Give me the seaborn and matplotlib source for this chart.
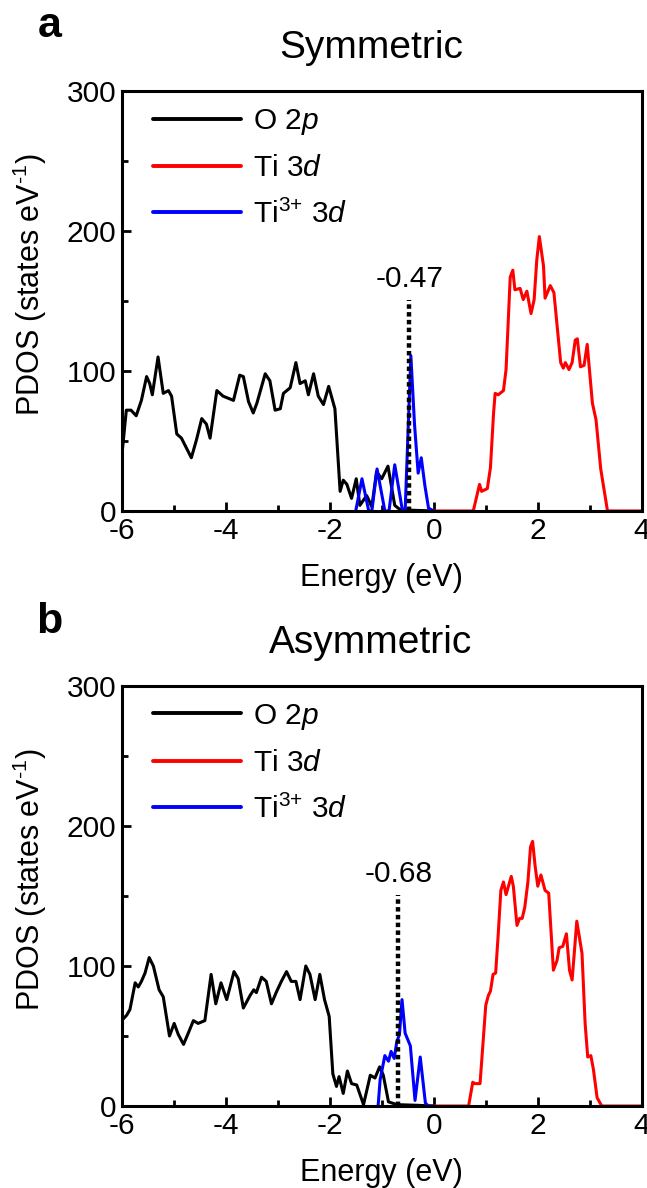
import matplotlib
matplotlib.use("Agg")
import matplotlib.pyplot as plt
from matplotlib.ticker import MultipleLocator
import seaborn as sns
import pandas as pd

# ---- Symmetric slab: projected DOS ----
sym_o2p_e = [-6.0, -5.91, -5.82, -5.72, -5.62, -5.52, -5.46, -5.41, -5.30, -5.20, -5.10, -5.04,
             -4.94, -4.85, -4.66, -4.56, -4.46, -4.37, -4.30, -4.17, -4.05, -3.85, -3.73, -3.66,
             -3.56, -3.47, -3.40, -3.24, -3.15, -3.05, -2.95, -2.89, -2.76, -2.65, -2.57, -2.47,
             -2.41, -2.31, -2.22, -2.12, -2.02, -1.90, -1.80, -1.74, -1.67, -1.58, -1.49, -1.42,
             -1.29, -1.19, -1.10, -1.00, -0.88, -0.75, -0.65, -0.40, 0.0]
sym_o2p_d = [38, 72, 72, 68, 79, 96, 91, 83, 110, 84, 86, 82,
             55, 52, 38, 51, 66, 62, 52, 86, 82, 79, 97, 96,
             78, 70, 77, 98, 93, 72, 73, 84, 88, 106, 91, 93,
             83, 98, 82, 76, 89, 73, 14, 22, 19, 9, 23, 4,
             11, 3, 28, 23, 32, 4, 1, 0.5, 0]

sym_ti3d_e = [0.0, 0.76, 0.88, 0.92, 1.03, 1.09, 1.15, 1.18, 1.24, 1.34, 1.39, 1.47, 1.52,
              1.56, 1.66, 1.72, 1.79, 1.87, 1.93, 1.98, 2.03, 2.11, 2.14, 2.24, 2.31, 2.44,
              2.49, 2.53, 2.60, 2.66, 2.72, 2.76, 2.82, 2.89, 2.95, 3.05, 3.12, 3.21, 3.34, 4.0]
sym_ti3d_d = [0, 0, 19, 14, 16, 31, 70, 84, 83, 86, 101, 167, 172,
              158, 159, 151, 157, 141, 151, 179, 196, 175, 152, 161, 156, 106,
              102, 106, 101, 106, 122, 123, 103, 104, 119, 77, 65, 30, 0, 0]

sym_ti33d_e = [-1.50, -1.38, -1.25, -1.19, -1.09, -0.94, -0.86, -0.75, -0.61, -0.55, -0.44,
               -0.37, -0.30, -0.24, -0.17, -0.10, 0.0]
sym_ti33d_d = [0, 23, 0, 0, 30, 0, 0, 33, 2, 0, 111,
               62, 27, 38, 18, 2, 0]

sym_fermi = -0.47

# ---- Asymmetric slab: projected DOS ----
asym_o2p_e = [-6.0, -5.90, -5.84, -5.74, -5.68, -5.62, -5.55, -5.47, -5.39, -5.28, -5.20, -5.08,
              -4.99, -4.91, -4.81, -4.72, -4.62, -4.53, -4.40, -4.28, -4.19, -4.09, -3.98, -3.84,
              -3.76, -3.66, -3.53, -3.46, -3.41, -3.31, -3.22, -3.12, -3.03, -2.93, -2.83, -2.74,
              -2.65, -2.57, -2.46, -2.38, -2.28, -2.19, -2.10, -2.01, -1.94, -1.87, -1.82, -1.74,
              -1.66, -1.58, -1.48, -1.35, -1.22, -1.13, -1.04, -0.97, -0.87, -0.71, -0.30, 0.0]
asym_o2p_d = [61, 65, 69, 88, 85, 89, 95, 106, 100, 83, 78, 50,
              59, 51, 44, 52, 61, 59, 61, 94, 73, 88, 76, 96,
              91, 70, 79, 83, 81, 92, 89, 73, 81, 89, 96, 89,
              89, 76, 100, 94, 76, 94, 76, 64, 23, 14, 21, 9,
              25, 16, 15, 1, 22, 20, 28, 22, 3, 1, 0.5, 0]

asym_ti3d_e = [0.0, 0.67, 0.75, 0.79, 0.89, 1.00, 1.05, 1.09, 1.14, 1.19, 1.24, 1.29, 1.34,
               1.39, 1.49, 1.53, 1.60, 1.65, 1.70, 1.75, 1.81, 1.86, 1.90, 1.95, 2.00, 2.06,
               2.14, 2.21, 2.30, 2.37, 2.41, 2.48, 2.55, 2.61, 2.66, 2.75, 2.85, 2.91, 2.96,
               3.02, 3.07, 3.14, 3.23, 4.0]
asym_ti3d_d = [0, 0, 17, 16, 16, 72, 79, 82, 94, 95, 123, 154, 160,
               151, 164, 157, 129, 134, 134, 142, 160, 185, 189, 171, 157, 165,
               154, 152, 97, 104, 113, 114, 123, 97, 90, 132, 109, 59, 35,
               36, 26, 6, 0, 0]

asym_ti33d_e = [-1.07, -1.03, -0.94, -0.87, -0.82, -0.76, -0.71, -0.66, -0.61, -0.55, -0.45,
                -0.36, -0.26, -0.16, -0.10, 0.0]
asym_ti33d_d = [0, 19, 36, 32, 39, 34, 46, 51, 76, 52, 43,
                4, 35, 2, 0, 0]

asym_fermi = -0.68

series_labels = ["O $\\mathit{2p}$", "Ti $\\mathit{3d}$", "Ti$^{3{+}}$ $\\mathit{3d}$"]
series_colors = ["#000000", "#ff0000", "#0000ff"]
panel_titles = ["Symmetric", "Asymmetric"]
panel_letters = ["a", "b"]

sns.set_style("ticks")
plt.rcParams["font.family"] = ["Liberation Sans", "DejaVu Sans"]
plt.rcParams["mathtext.fontset"] = "custom"
plt.rcParams["mathtext.rm"] = "Liberation Sans"
plt.rcParams["mathtext.it"] = "Liberation Sans:italic"
plt.rcParams["mathtext.bf"] = "Liberation Sans:bold"
plt.rcParams["axes.unicode_minus"] = False
for key in ["text.color", "axes.labelcolor", "xtick.color", "ytick.color", "axes.edgecolor"]:
    plt.rcParams[key] = "black"

FS = 21.5

fig = plt.figure(figsize=(6.47, 11.88), dpi=100)
ax_a = fig.add_axes([0.188, 0.5699, 0.804, 0.3535])
ax_b = fig.add_axes([0.188, 0.0690, 0.804, 0.3536])

panels = [
    (ax_a, [(sym_o2p_e, sym_o2p_d), (sym_ti3d_e, sym_ti3d_d), (sym_ti33d_e, sym_ti33d_d)], sym_fermi),
    (ax_b, [(asym_o2p_e, asym_o2p_d), (asym_ti3d_e, asym_ti3d_d), (asym_ti33d_e, asym_ti33d_d)], asym_fermi),
]

for i, (ax, curves, fermi) in enumerate(panels):
    for (e, d), lab, col in zip(curves, series_labels, series_colors):
        df = pd.DataFrame({"Energy": e, "PDOS": d})
        sns.lineplot(data=df, x="Energy", y="PDOS", ax=ax, color=col, lw=2.2,
                     label=lab, estimator=None, sort=False)
    # dotted marker at the labelled band-edge energy
    ax.plot([fermi, fermi], [0, 151], color="black", ls=(0, (1, 0.75)), lw=3.2, zorder=3)
    ax.text(fermi, 160, f"{fermi:.2f}", ha="center", va="baseline", fontsize=FS)

    ax.set_xlim(-6, 4)
    ax.set_ylim(0, 300)
    ax.xaxis.set_major_locator(MultipleLocator(2))
    ax.xaxis.set_minor_locator(MultipleLocator(1))
    ax.yaxis.set_major_locator(MultipleLocator(100))
    ax.yaxis.set_minor_locator(MultipleLocator(50))
    ax.tick_params(which="both", direction="in", top=False, right=False, width=2.0,
                   labelsize=FS, pad=4, colors="black")
    ax.tick_params(which="major", length=6.5)
    ax.tick_params(which="minor", length=4)
    for sp in ax.spines.values():
        sp.set_visible(True)
        sp.set_linewidth(2.2)
        sp.set_color("black")
    ax.set_xlabel("Energy (eV)", fontsize=FS + 0.5, labelpad=13)
    ax.set_ylabel("PDOS (states eV$^{\\text{-}1}$)", fontsize=FS + 0.5)
    ax.yaxis.set_label_coords(-0.14, 0.54)
    ax.set_title(panel_titles[i], fontsize=28, pad=24, x=0.479)
    leg = ax.legend(loc="upper left", bbox_to_anchor=(0.06, 0.962), frameon=False,
                    fontsize=FS, handlelength=2.95, handletextpad=0.4, labelspacing=0.58,
                    borderaxespad=0.0, borderpad=0.0)
    for h in leg.get_lines():
        h.set_linewidth(2.8)

fig.text(38 / 647, 1 - 37 / 1188, panel_letters[0], fontsize=31, fontweight="bold",
         ha="left", va="baseline")
fig.text(36 / 647, 1 - 633 / 1188, panel_letters[1], fontsize=31, fontweight="bold",
         ha="left", va="baseline")

fig.savefig("out.png", dpi=100)
